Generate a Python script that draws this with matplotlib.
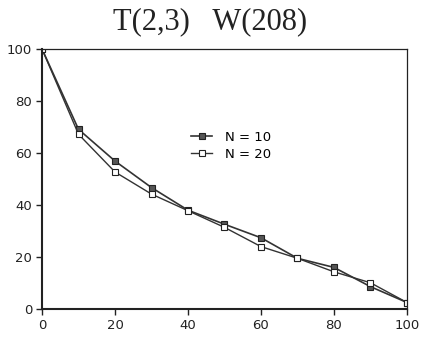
import numpy as np
import matplotlib.pyplot as plt

# valori
x = [0, 10, 20, 30, 40, 50, 60, 70, 80, 90, 100]
n10 = [100, 69.1, 56.9, 46.7, 38.0, 32.6, 27.4, 19.5, 16.0, 8.6, 2.5]
n20 = [100, 67.2, 52.7, 44.2, 37.8, 31.4, 24.0, 19.5, 14.3, 10.1, 2.5]
xticks = [0, 20, 40, 60, 80, 100]
yticks = [0, 20, 40, 60, 80, 100]

plt.rcParams['font.family'] = ['DejaVu Sans']

fig = plt.figure(figsize=(4.21, 3.44), dpi=100)
ax = fig.add_axes([0.0998, 0.1017, 0.8669, 0.7559])

ax.plot(x, n10, color='#333333', lw=1.2, marker='s', ms=4.8,
        mfc='#555555', mec='#222222', mew=0.8, label='N = 10')
ax.plot(x, n20, color='#333333', lw=1.0, marker='s', ms=4.8,
        mfc='white', mec='#222222', mew=0.8, label='N = 20')

ax.set_xlim(0, 100)
ax.set_ylim(0, 100)
ax.set_xticks(xticks)
ax.set_yticks(yticks)
ax.tick_params(direction='out', length=4, width=1.0, labelsize=9.5,
               colors='#222222', pad=3)
for s in ['left', 'bottom']:
    ax.spines[s].set_linewidth(1.5)
for s in ['top', 'right']:
    ax.spines[s].set_linewidth(0.9)
for s in ax.spines.values():
    s.set_color('#222222')

ax.legend(loc='upper left', bbox_to_anchor=(0.39, 0.71), frameon=False,
          fontsize=9.5, handlelength=1.6, handletextpad=1.0,
          labelspacing=0.3, borderpad=0)

fig.text(0.5, 0.936, 'T(2,3)   W(208)', ha='center', va='center',
         fontsize=22, family='Liberation Serif', color='#222222')

fig.savefig('out.png', dpi=100)
